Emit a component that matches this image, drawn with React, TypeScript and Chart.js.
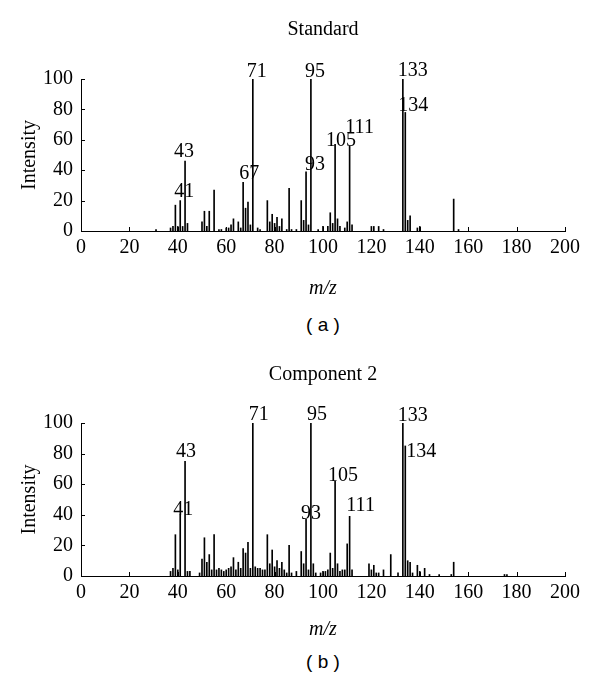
import React, { useEffect, useRef } from "react";
import { Chart, registerables } from "chart.js";

Chart.register(...registerables);

// ---------- Data: (a) Standard ----------
const stdMz = [31, 37, 38, 39, 40, 41, 42, 43, 44, 50, 51, 52, 53, 55, 57, 58, 60, 61, 62, 63, 65, 66, 67, 68, 69, 70, 71, 73, 74, 77, 78, 79, 80, 81, 82, 83, 85, 86, 87, 89, 91, 92, 93, 94, 95, 98, 100, 102, 103, 104, 105, 106, 107, 109, 110, 111, 112, 120, 121, 123, 125, 133, 134, 135, 136, 139, 140, 154, 156];
const stdIntensity = [1, 2, 3, 17, 3, 20, 3, 46, 5, 6, 13, 3, 13, 27, 1, 1, 2, 2, 4, 8, 6, 2, 32, 15, 19, 4, 100, 2, 1, 20, 6, 11, 5, 9, 3, 8, 1, 28, 1, 1, 20, 7, 39, 4, 100, 1, 3, 3, 12, 5, 57, 8, 3, 2, 6, 56, 4, 3, 3, 3, 1, 100, 78, 7, 10, 2, 3, 21, 1];
const stdLabelMz = [41, 43, 67, 71, 93, 95, 105, 111, 133, 134];

// ---------- Data: (b) Component 2 ----------
const compMz = [37, 38, 39, 40, 41, 43, 44, 45, 49, 50, 51, 52, 53, 54, 55, 56, 57, 58, 59, 60, 61, 62, 63, 64, 65, 66, 67, 68, 69, 70, 71, 72, 73, 74, 75, 76, 77, 78, 79, 80, 81, 82, 83, 84, 85, 86, 87, 89, 91, 92, 93, 94, 95, 96, 97, 99, 100, 101, 102, 103, 104, 105, 106, 107, 108, 109, 110, 111, 112, 119, 120, 121, 122, 123, 125, 128, 131, 133, 134, 135, 136, 137, 139, 140, 142, 144, 148, 153, 154, 175, 176];
const compIntensity = [3, 5, 27, 4, 40, 75, 3, 3, 2, 11, 25, 9, 14, 4, 27, 4, 5, 4, 3, 4, 5, 6, 12, 4, 9, 5, 18, 15, 22, 5, 100, 6, 5, 5, 4, 4, 27, 8, 17, 6, 10, 5, 9, 4, 2, 20, 2, 3, 16, 8, 37, 4, 100, 8, 2, 2, 3, 3, 4, 15, 5, 62, 8, 3, 4, 4, 21, 39, 4, 8, 4, 7, 2, 2, 4, 14, 2, 100, 85, 10, 9, 2, 7, 3, 5, 1, 1, 1, 9, 1, 1];
const compLabelMz = [41, 43, 71, 93, 95, 105, 111, 133, 134];

// Label placement styles (pixel offsets: dx from bar, dy = gap above bar top)
const stdLabelStyle = [
  { dx: 4, dy: 4 }, { dx: -1, dy: 4 }, { dx: 6, dy: 3 }, { dx: 4, dy: 2 }, { dx: 9, dy: 2 },
  { dx: 4, dy: 2 }, { dx: 6, dy: -2 }, { dx: 10, dy: 13 }, { dx: 10, dy: 3 }, { dx: 8, dy: 1 },
];
const compLabelStyle = [
  { dx: 3, dy: 0 }, { dx: 1, dy: 4 }, { dx: 6, dy: 3 }, { dx: 5, dy: 0 },
  { dx: 6, dy: 3 }, { dx: 8, dy: 0 }, { dx: 11, dy: 5 }, { dx: 10, dy: 2 }, { dx: 16, dy: -11 },
];

const SERIF = "'Liberation Serif', 'Times New Roman', serif";
const SANS = "'Liberation Sans', Arial, sans-serif";
const FONT_SIZE = 20;

type Props = {
  mz: number[];
  intensity: number[];
  labelMz: number[];
  labelStyle: { dx: number; dy: number }[];
  title: string;
  areaTop: number;
  xTitleY: number;
};

function SpectrumChart({ mz, intensity, labelMz, labelStyle, title, areaTop, xTitleY }: Props) {
  const ref = useRef<HTMLCanvasElement>(null);
  useEffect(() => {
    if (!ref.current) return;
    const H = 300;
    const areaBottom = 231;
    const xAxisHeight = 40;

    const overlay = {
      id: "overlay",
      afterDraw(chart: any) {
        const { ctx, chartArea, scales } = chart;
        const xs = scales.x;
        const ys = scales.y;
        ctx.save();
        ctx.strokeStyle = "#000";
        ctx.lineWidth = 1;
        ctx.beginPath();
        for (let v = 0; v <= 100; v += 20) {
          const y = Math.round(ys.getPixelForValue(v)) + 0.5;
          ctx.moveTo(chartArea.left, y);
          ctx.lineTo(chartArea.left + 4, y);
        }
        for (let v = 0; v <= 200; v += 20) {
          const x = Math.round(xs.getPixelForValue(v)) + 0.5;
          ctx.moveTo(x, chartArea.bottom);
          ctx.lineTo(x, chartArea.bottom - 4);
        }
        ctx.stroke();

        ctx.fillStyle = "#000";
        ctx.font = `${FONT_SIZE}px ${SERIF}`;
        ctx.textAlign = "center";
        ctx.textBaseline = "alphabetic";
        labelMz.forEach((m, i) => {
          const idx = mz.indexOf(m);
          if (idx < 0) return;
          const st = labelStyle[i];
          const x = xs.getPixelForValue(m) + st.dx;
          const y = ys.getPixelForValue(intensity[idx]) - st.dy;
          ctx.fillText(String(m), x, y);
        });

        const cx = (chartArea.left + chartArea.right) / 2;
        ctx.textBaseline = "middle";
        ctx.fillText(title, cx, 30);

        ctx.font = `italic ${FONT_SIZE}px ${SERIF}`;
        ctx.fillText("m/z", cx, xTitleY);

        ctx.font = `${FONT_SIZE}px ${SERIF}`;
        ctx.translate(30, (chartArea.top + chartArea.bottom) / 2);
        ctx.rotate(-Math.PI / 2);
        ctx.fillText("Intensity", 0, 0);
        ctx.restore();
      },
    };

    const chart = new Chart(ref.current, {
      type: "bar",
      data: {
        datasets: [
          {
            data: mz.map((m, i) => ({ x: m, y: intensity[i] })),
            backgroundColor: "#000",
            borderWidth: 0,
            barThickness: 1,
          } as any,
        ],
      },
      options: {
        responsive: false,
        animation: false,
        layout: {
          padding: { top: areaTop, right: 35, left: 0, bottom: H - areaBottom - xAxisHeight },
        },
        plugins: {
          legend: { display: false },
          tooltip: { enabled: false },
          title: { display: false },
        },
        scales: {
          x: {
            type: "linear",
            min: 0,
            max: 200,
            offset: false,
            grid: { display: false, drawTicks: false },
            border: { display: true, color: "#000", width: 1 },
            ticks: {
              stepSize: 20,
              autoSkip: false,
              maxRotation: 0,
              padding: 5,
              color: "#000",
              font: { family: SERIF, size: FONT_SIZE },
            },
            afterFit: (s: any) => {
              s.height = xAxisHeight;
            },
          },
          y: {
            min: 0,
            max: 100,
            grid: { display: false, drawTicks: false },
            border: { display: true, color: "#000", width: 1 },
            ticks: {
              stepSize: 20,
              padding: 8,
              color: "#000",
              font: { family: SERIF, size: FONT_SIZE },
            },
            afterFit: (s: any) => {
              s.width = 81;
            },
          },
        },
      },
      plugins: [overlay],
    });
    return () => chart.destroy();
  }, [mz, intensity, labelMz, labelStyle, title, areaTop, xTitleY]);
  return <canvas ref={ref} width={600} height={300} style={{ display: "block", width: 600, height: 300 }} />;
}

const captionStyle: React.CSSProperties = {
  position: "absolute",
  left: 0,
  width: 600,
  textAlign: "center",
  font: `19px ${SANS}`,
  lineHeight: "22px",
  paddingLeft: 46,
  boxSizing: "border-box",
};

export default function App() {
  return (
    <div style={{ position: "absolute", left: 0, top: 0, width: 600, height: 689, background: "#fff" }}>
      <div style={{ position: "absolute", left: 0, top: 0 }}>
        <SpectrumChart mz={stdMz} intensity={stdIntensity} labelMz={stdLabelMz} labelStyle={stdLabelStyle} title="Standard" areaTop={79} xTitleY={289} />
      </div>
      <div style={{ ...captionStyle, top: 314 }}>( a )</div>
      <div style={{ position: "absolute", left: 0, top: 345 }}>
        <SpectrumChart mz={compMz} intensity={compIntensity} labelMz={compLabelMz} labelStyle={compLabelStyle} title="Component 2" areaTop={78} xTitleY={285} />
      </div>
      <div style={{ ...captionStyle, top: 651 }}>( b )</div>
    </div>
  );
}
